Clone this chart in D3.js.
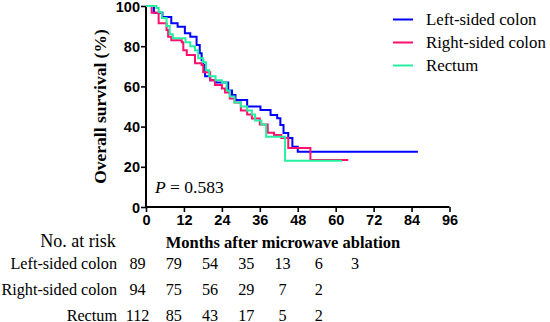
<!DOCTYPE html>
<html><head><meta charset="utf-8">
<script src="https://cdn.jsdelivr.net/npm/d3@7/dist/d3.min.js"></script>
<style>body{margin:0;background:#fff}svg{display:block}</style>
</head><body>
<svg id="c" width="550" height="322"></svg>
<script>
const seriesNames = ["Left-sided colon", "Right-sided colon", "Rectum"];
const seriesColors = ["#0000FF", "#FF0F6E", "#26F0A0"];
const xTicks = [0, 12, 24, 36, 48, 60, 72, 84, 96];
const yTicks = [0, 20, 40, 60, 80, 100];
const leftSided = [[0,100],[2.5,96.7],[5.2,94.5],[8,91.4],[10,89.7],[12.3,86.4],[14,84.7],[16,80.6],[17,76.5],[17.6,73],[18.1,70.6],[18.7,65],[20.3,63],[22,62],[26,58],[27.2,55.7],[28.3,53.2],[32,50],[36.2,48.3],[39.4,45.8],[41.5,44.2],[42.5,40.8],[43.5,36.8],[45,34.3],[46.3,30],[48,27.5],[86,27.5]];
const rightSided = [[0,100],[1.8,96.7],[4,91.4],[6.5,88],[7,84.7],[8,83],[11.3,82],[11.8,78],[12.9,75.6],[15.5,71.5],[17.6,70.6],[18.1,67],[20.3,63],[21.8,60.7],[24,59],[25,57],[26.5,54],[28,52],[30,48],[32,46],[33.5,44],[36,41],[38.5,37],[40.5,35.8],[42.8,34.3],[45,29.4],[52,23.4],[64,23.4]];
const rectum = [[0,100],[3.3,99],[4,97],[5,94],[6.5,90],[7.5,86],[8.5,84],[12.5,82],[14,80],[15.5,78],[16.5,74],[18,72],[19,68],[20,65],[22,63],[24,62],[25.5,58],[26.5,55],[28,52],[30,50],[32,48],[33.5,46],[34.5,43],[36.5,41],[38,35],[44,23],[62,23]];
const riskMonths = [0, 12, 24, 36, 48, 60, 72];
const riskLeft = [89, 79, 54, 35, 13, 6, 3];
const riskRight = [94, 75, 56, 29, 7, 2];
const riskRectum = [112, 85, 43, 17, 5, 2];
const pText = "0.583";

const svg = d3.select("#c");
const x = d3.scaleLinear().domain([0, 96]).range([146, 449.5]);
const y = d3.scaleLinear().domain([0, 100]).range([207, 6]);

const serif = "'Liberation Serif','Times New Roman',serif";
const sans = "'Liberation Sans',Arial,sans-serif";

// axes
const xAxis = svg.append("g").attr("transform", `translate(0,${y(0)})`)
  .call(d3.axisBottom(x).tickValues(xTicks).tickSize(5).tickSizeOuter(0).tickPadding(3));
const yAxis = svg.append("g").attr("transform", `translate(${x(0)},0)`)
  .call(d3.axisLeft(y).tickValues(yTicks).tickSize(5).tickSizeOuter(0).tickPadding(1));
[xAxis, yAxis].forEach(a => {
  a.select(".domain").attr("stroke", "#000").attr("stroke-width", 2);
  a.selectAll(".tick line").attr("stroke", "#000").attr("stroke-width", 1.6);
  a.selectAll(".tick text").attr("font-family", sans).attr("font-weight", "bold")
    .attr("font-size", 14.5).attr("fill", "#000");
});
xAxis.select(".domain").attr("d", `M${x(0)},0H${x(96)}`);
yAxis.select(".domain").attr("d", `M0,${y(0)}V${y(100)}`);
yAxis.selectAll(".tick text").attr("dy", "0.35em");

// curves
const line = d3.line().x(d => x(d[0])).y(d => y(d[1])).curve(d3.curveStepAfter);
const data = [leftSided, rightSided, rectum];
[0, 1, 2].forEach(i => {
  svg.append("path").datum(data[i]).attr("d", line).attr("fill", "none")
    .attr("stroke", seriesColors[i]).attr("stroke-width", 2);
});

// legend
const ly = d3.scaleLinear().domain([0, 2]).range([19.5, 65.5]);
seriesNames.forEach((n, i) => {
  svg.append("line").attr("x1", 393).attr("x2", 413).attr("y1", ly(i)).attr("y2", ly(i))
    .attr("stroke", seriesColors[i]).attr("stroke-width", 2);
  svg.append("text").attr("x", 426).attr("y", ly(i)).attr("dy", "0.35em")
    .attr("font-family", serif).attr("font-size", 16.8).text(n);
});

// P value
const pt = svg.append("text").attr("x", 155).attr("y", 193).attr("font-family", serif).attr("font-size", 17.5);
pt.append("tspan").attr("font-style", "italic").text("P");
pt.append("tspan").text(" = " + pText);

// axis titles
svg.append("text").attr("transform", `translate(106,${y(50)}) rotate(-90)`)
  .attr("text-anchor", "middle").attr("font-family", serif).attr("font-weight", "bold")
  .attr("font-size", 17.5).text("Overall survival (%)");
svg.append("text").attr("x", 283).attr("y", 242).attr("dy", "0.35em").attr("text-anchor", "middle")
  .attr("font-family", serif).attr("font-weight", "bold").attr("font-size", 16.5)
  .text("Months after microwave ablation");

// risk table
svg.append("text").attr("x", 78).attr("y", 241).attr("dy", "0.35em").attr("text-anchor", "middle")
  .attr("font-family", serif).attr("font-size", 18).text("No. at risk");
const rx = d3.scaleLinear().domain([0, 72]).range([137.5, 355]);
const rows = [riskLeft, riskRight, riskRectum];
const ry = d3.scaleLinear().domain([0, 2]).range([263.5, 315.5]);
rows.forEach((r, i) => {
  svg.append("text").attr("x", 117).attr("y", ry(i)).attr("dy", "0.35em").attr("text-anchor", "end")
    .attr("font-family", serif).attr("font-size", 16.2).text(seriesNames[i]);
  r.forEach((v, j) => {
    svg.append("text").attr("x", rx(riskMonths[j])).attr("y", ry(i)).attr("dy", "0.35em")
      .attr("text-anchor", "middle").attr("font-family", serif).attr("font-size", 16.2).text(v);
  });
});
</script>
</body></html>
